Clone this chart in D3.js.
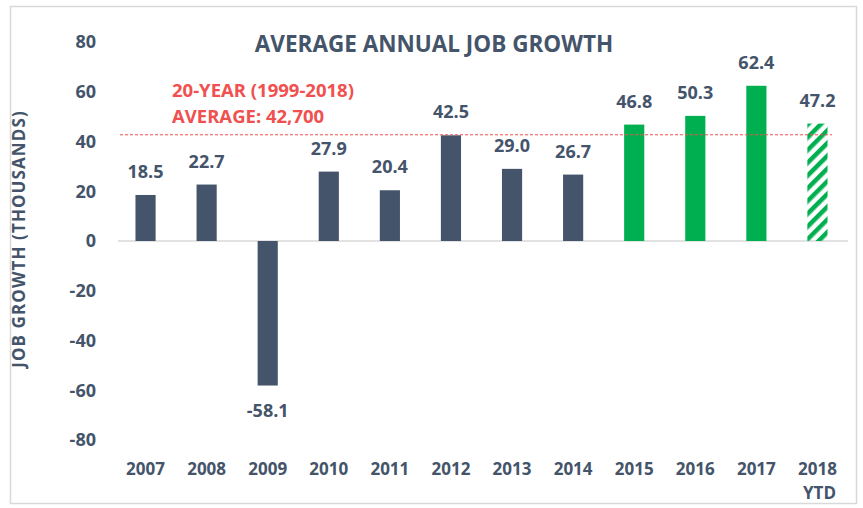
<!DOCTYPE html>
<html>
<head>
<meta charset="utf-8">
<script src="https://cdn.jsdelivr.net/npm/d3@7"></script>
<style>
  body { margin: 0; background: #fff; }
  text { font-family: "Open Sans", Lato, sans-serif; font-weight: bold; }
</style>
</head>
<body>
<div id="chart"></div>
<script>
var years = ["2007","2008","2009","2010","2011","2012","2013","2014","2015","2016","2017","2018"];
var growth = [18.5, 22.7, -58.1, 27.9, 20.4, 42.5, 29.0, 26.7, 46.8, 50.3, 62.4, 47.2];
var kind = ["past","past","past","past","past","past","past","past","recent","recent","recent","ytd"];
var yTicks = [80, 60, 40, 20, 0, -20, -40, -60, -80];
var average = 42.7;

var width = 863, height = 508;
var dark = "#44546a", green = "#00b050", red = "#f0504f";

var svg = d3.select("#chart").append("svg")
  .attr("width", width)
  .attr("height", height);

// hatch for the year to date bar
var defs = svg.append("defs");
defs.append("pattern")
  .attr("id", "hatch")
  .attr("patternUnits", "userSpaceOnUse")
  .attr("width", 9).attr("height", 9)
  .attr("patternTransform", "rotate(45)")
  .append("rect")
  .attr("width", 4.5).attr("height", 9)
  .attr("fill", green);

// outer frame
svg.append("rect")
  .attr("x", 10.5).attr("y", 6.5)
  .attr("width", 846).attr("height", 497)
  .attr("fill", "none")
  .attr("stroke", "#d9d9d9")
  .attr("stroke-width", 1.5);

var x = d3.scaleBand()
  .domain(years)
  .range([115, 848])
  .paddingInner(0.67)
  .paddingOuter(0.335);

var y = d3.scaleLinear()
  .domain([-80, 80])
  .range([440, 42]);

// y tick labels
svg.selectAll("text.ytick")
  .data(yTicks)
  .enter().append("text")
  .attr("class", "ytick")
  .attr("x", 96)
  .attr("y", d => y(d))
  .attr("dy", "0.36em")
  .attr("text-anchor", "end")
  .style("fill", dark)
  .style("font-size", "18px")
  .text(d => d);

// y axis title
svg.append("text")
  .attr("transform", "translate(19,239) rotate(-90)")
  .attr("text-anchor", "middle")
  .attr("dy", "0.36em")
  .style("fill", dark)
  .style("font-size", "17px")
  .style("letter-spacing", "1.1px")
  .text("JOB GROWTH (THOUSANDS)");

// title
svg.append("text")
  .attr("x", 434)
  .attr("y", 52)
  .attr("text-anchor", "middle")
  .style("fill", dark)
  .style("font-size", "22.5px")
  .text("AVERAGE ANNUAL JOB GROWTH");

// zero line
svg.append("line")
  .attr("x1", 118).attr("x2", 848)
  .attr("y1", y(0)).attr("y2", y(0))
  .attr("stroke", "#d9d9d9")
  .attr("stroke-width", 1.5);

// bars
svg.selectAll("rect.bar")
  .data(years)
  .enter().append("rect")
  .attr("class", "bar")
  .attr("x", d => x(d))
  .attr("width", x.bandwidth())
  .attr("y", (d, i) => y(Math.max(0, growth[i])))
  .attr("height", (d, i) => Math.abs(y(growth[i]) - y(0)))
  .attr("fill", (d, i) => kind[i] == "past" ? dark : kind[i] == "recent" ? green : "url(#hatch)");

// average line
svg.append("line")
  .attr("x1", 120).attr("x2", 832)
  .attr("y1", y(average)).attr("y2", y(average))
  .attr("stroke", red)
  .attr("stroke-width", 1)
  .attr("stroke-dasharray", "3,2");

svg.append("text")
  .attr("x", 172).attr("y", 97)
  .style("fill", red)
  .style("font-size", "18.5px")
  .text("20-YEAR (1999-2018)");
svg.append("text")
  .attr("x", 172).attr("y", 123)
  .style("fill", red)
  .style("font-size", "18.5px")
  .text("AVERAGE: 42,700");

// value labels
svg.selectAll("text.val")
  .data(years)
  .enter().append("text")
  .attr("class", "val")
  .attr("x", d => x(d) + x.bandwidth() / 2)
  .attr("y", (d, i) => growth[i] >= 0 ? y(growth[i]) - 17 : y(growth[i]) + 31)
  .attr("text-anchor", "middle")
  .style("fill", dark)
  .style("font-size", "18px")
  .text((d, i) => growth[i].toFixed(1));

// x labels
svg.selectAll("text.xlab")
  .data(years)
  .enter().append("text")
  .attr("class", "xlab")
  .attr("x", d => x(d) + x.bandwidth() / 2)
  .attr("y", 475)
  .attr("text-anchor", "middle")
  .style("fill", dark)
  .style("font-size", "17px")
  .text(d => d);

svg.append("text")
  .attr("x", x("2018") + x.bandwidth() / 2 + 2)
  .attr("y", 499)
  .attr("text-anchor", "middle")
  .style("fill", dark)
  .style("font-size", "17px")
  .text("YTD");
</script>
</body>
</html>
